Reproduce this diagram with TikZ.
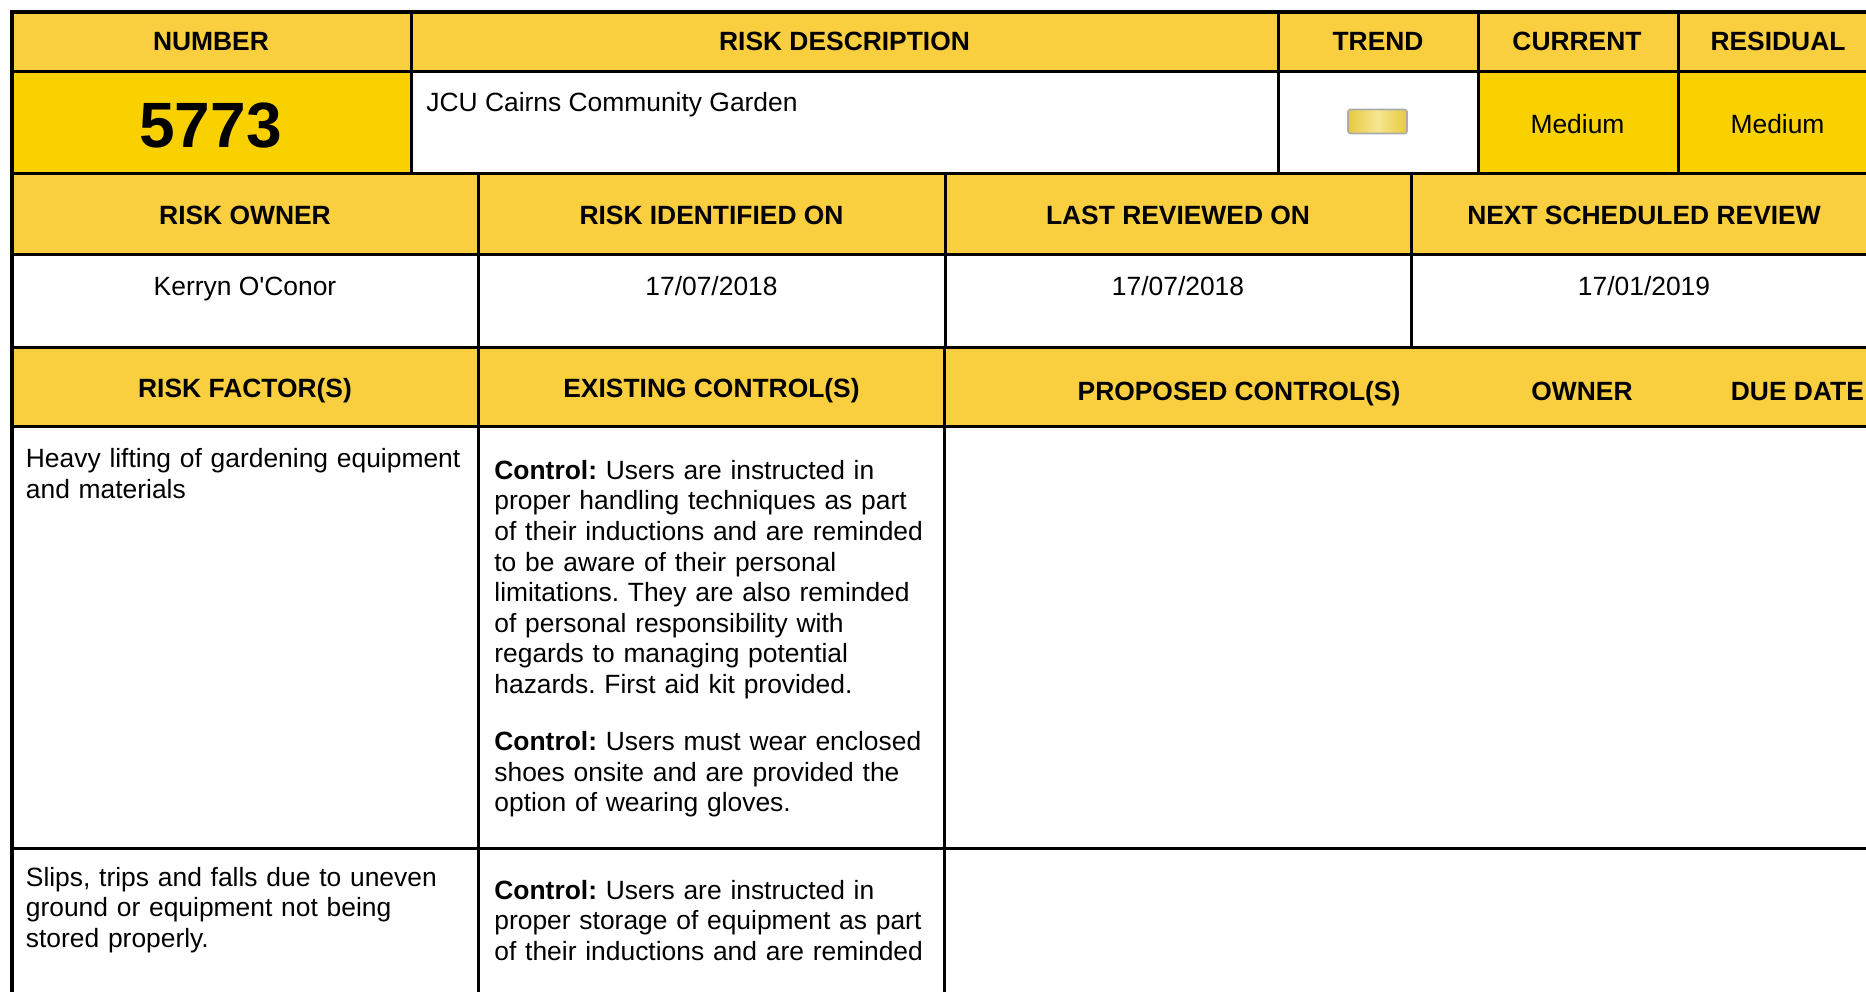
\documentclass[tikz,border=0pt]{standalone}
\usepackage{fontspec}
\setmainfont{Liberation Sans}
\usepackage{tikz}
\usetikzlibrary{positioning}

\definecolor{headgold}{HTML}{F9CF40}
\definecolor{cellgold}{HTML}{F9D100}
\definecolor{trendgold}{HTML}{E6C940}
\definecolor{trendlight}{HTML}{F7E690}
\definecolor{trendedge}{HTML}{ABABAB}

\tikzset{
    rule/.style={line width=1.5pt},
    headtext/.style={font=\fontsize{13.2}{15.3}\selectfont\bfseries, inner sep=0pt, anchor=base},
    celltext/.style={font=\fontsize{13.2}{15.3}\selectfont\frenchspacing, inner sep=0pt, anchor=base},
    paratext/.style={font=\fontsize{13.2}{15.3}\selectfont\frenchspacing, inner sep=0pt, anchor=base west, text width=#1, align=left},
}

\begin{document}
\begin{tikzpicture}[x=0.5pt, y=-0.5pt]
                \useasboundingbox (0,0) rectangle (1866,991);
                \clip (0,0) rectangle (1866,991);

                % bands
                \fill[headgold] (12,12) rectangle (1890,71);
                \fill[cellgold] (12,71) rectangle (411,173);
                \fill[cellgold] (1478,71) rectangle (1890,173);
                \fill[headgold] (12,173) rectangle (1890,254);
                \fill[headgold] (12,347) rectangle (1890,426);

                % rules
                \foreach \y in {71,173,254,347,426,848}
                    \draw[rule] (12,\y) -- (1890,\y);
                \draw[rule, line width=1.8pt] (1890,12) -- (12,12) -- (12,1000);
                \foreach \x in {411,1278,1478,1678}
                    \draw[rule] (\x,12) -- (\x,173);
                \foreach \x in {478,945,1411}
                    \draw[rule] (\x,173) -- (\x,347);
                \foreach \x in {478,944}
                    \draw[rule] (\x,347) -- (\x,1000);

                % first block
                \node[headtext] (number) at (211,50.7) {NUMBER};
                \node[headtext] (riskdesc) at (844.5,50.7) {RISK DESCRIPTION};
                \node[headtext] (trend) at (1378,50.7) {TREND};
                \node[headtext] (current) at (1577,50.7) {CURRENT};
                \node[headtext] (residual) at (1778,50.7) {RESIDUAL};

                \node[headtext, font=\fontsize{32}{36}\selectfont\bfseries] (numval) at (210.5,147) {5773};
                \node[celltext, anchor=base west] (descval) at (426,111) {JCU Cairns Community Garden};
                \node[draw=trendedge, line width=0.8pt, rounded corners=1.2pt, left color=trendgold, right color=trendgold, middle color=trendlight,
                      minimum width=29.5pt, minimum height=12pt, inner sep=0pt] (trendicon) at (1377.5,121.5) {};
                \node[celltext] (curval) at (1577.5,133.3) {Medium};
                \node[celltext] (resval) at (1777.5,133.3) {Medium};

                % second block
                \node[headtext] (owner) at (245,224) {RISK OWNER};
                \node[headtext] (identified) at (711.5,224) {RISK IDENTIFIED ON};
                \node[headtext] (reviewed) at (1178,224) {LAST REVIEWED ON};
                \node[headtext] (nextreview) at (1644,224) {NEXT SCHEDULED REVIEW};

                \node[celltext] (ownerval) at (245,295) {Kerryn O\textquotesingle Conor};
                \node[celltext] (identval) at (711.5,295) {17/07/2018};
                \node[celltext] (reviewval) at (1178,295) {17/07/2018};
                \node[celltext] (nextval) at (1644,295) {17/01/2019};

                % factor block
                \node[headtext] (factor) at (245,397.5) {RISK FACTOR(S)};
                \node[headtext] (existing) at (711.5,397.5) {EXISTING CONTROL(S)};
                \node[headtext] (proposed) at (1239,400.5) {PROPOSED CONTROL(S)};
                \node[headtext] (propowner) at (1582,400.5) {OWNER};
                \node[headtext, anchor=base west] (duedate) at (1730.5,400.5) {DUE DATE};

                \node[paratext=225pt] (factorA) at (25.5,467.5) {Heavy lifting of gardening equipment\\and materials};
                \node[paratext=225pt] (controlA) at (494,479.3) {\textbf{Control:} Users are instructed in\\proper handling techniques as part\\of their inductions and are reminded\\to be aware of their personal\\limitations. They are also reminded\\of personal responsibility with\\regards to managing potential\\hazards. First aid kit provided.\\[13.3pt]\textbf{Control:} Users must wear enclosed\\shoes onsite and are provided the\\option of wearing gloves.};
                \node[paratext=225pt] (factorB) at (25.5,886) {Slips, trips and falls due to uneven\\ground or equipment not being\\stored properly.};
                \node[paratext=225pt] (controlB) at (494,899) {\textbf{Control:} Users are instructed in\\proper storage of equipment as part\\of their inductions and are reminded};
\end{tikzpicture}
\end{document}
